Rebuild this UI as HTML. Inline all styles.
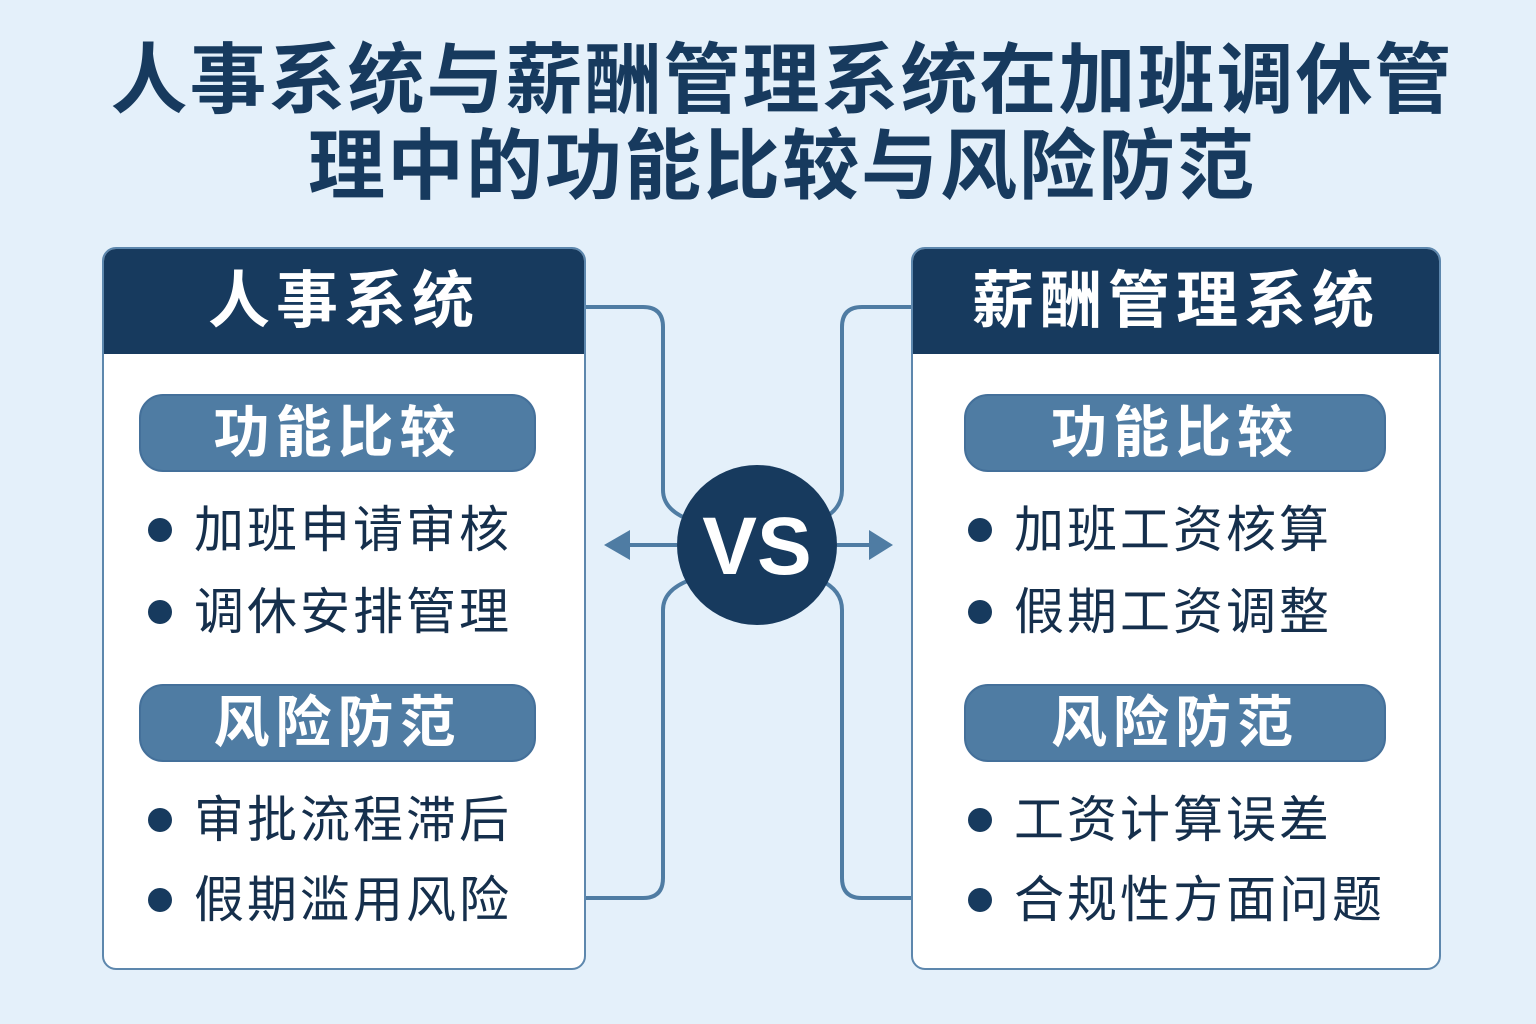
<!DOCTYPE html>
<html><head><meta charset="utf-8"><style>
body{margin:0;width:1536px;height:1024px;background:#e4f0fa;position:relative;overflow:hidden;font-family:"Liberation Sans","Noto Sans CJK SC",sans-serif}
.t{position:absolute;left:14px;width:1536px;text-align:center;color:#173a5e;font-weight:bold;white-space:nowrap}
.panel{position:absolute;top:247px;height:723px;background:#fff;border:2px solid #5d87ad;border-radius:14px;box-sizing:border-box;overflow:hidden}
.hd{position:absolute;left:0;top:0;right:0;height:105px;background:#173a5e;color:#fff;font-weight:bold;font-size:62px;line-height:105px;text-align:center;letter-spacing:6px}
.pill{position:absolute;height:78px;background:#4f7ca3;border:2px solid #44709a;border-radius:24px;box-sizing:border-box;color:#fff;font-weight:bold;font-size:56px;line-height:74px;text-align:center;letter-spacing:6px}
.it{position:absolute;font-size:50px;color:#152f4c;white-space:nowrap;line-height:60px;letter-spacing:3px}
.it:before{content:"";position:absolute;left:-46px;top:18px;width:24px;height:24px;border-radius:50%;background:#173a5e}
</style></head><body>
<div class="t" style="top:36px;font-size:77px;line-height:90px;letter-spacing:2px">人事系统与薪酬管理系统在加班调休管</div>
<div class="t" style="top:122px;font-size:77px;line-height:90px;letter-spacing:2px">理中的功能比较与风险防范</div>

<svg style="position:absolute;left:0;top:0" width="1536" height="1024">
<g fill="none" stroke="#4f7ca3" stroke-width="4">
<path d="M585 307 H643 Q663 307 663 327 V490 Q663 510 690 520"/>
<path d="M585 898 H643 Q663 898 663 878 V610 Q663 590 690 580"/>
<path d="M912 307 H862 Q842 307 842 327 V490 Q842 510 820 520"/>
<path d="M912 898 H862 Q842 898 842 878 V610 Q842 590 820 580"/>
<path d="M677 545 H625"/><path d="M837 545 H872"/>
</g>
<polygon points="604,545 630,530 630,560" fill="#4f7ca3"/>
<polygon points="893,545 869,530 869,560" fill="#4f7ca3"/>
<circle cx="757" cy="545" r="80" fill="#173a5e"/>
<text x="757" y="574" text-anchor="middle" fill="#fff" font-size="82" font-weight="bold" font-family="Liberation Sans,sans-serif">VS</text>
</svg>

<div class="panel" style="left:102px;width:484px">
<div class="hd">人事系统</div>
<div class="pill" style="left:35px;top:145px;width:397px">功能比较</div>
<div class="it" style="left:90px;top:251px">加班申请审核</div>
<div class="it" style="left:90px;top:333px">调休安排管理</div>
<div class="pill" style="left:35px;top:435px;width:397px">风险防范</div>
<div class="it" style="left:90px;top:541px">审批流程滞后</div>
<div class="it" style="left:90px;top:621px">假期滥用风险</div>
</div>

<div class="panel" style="left:911px;width:530px">
<div class="hd">薪酬管理系统</div>
<div class="pill" style="left:51px;top:145px;width:422px">功能比较</div>
<div class="it" style="left:101px;top:251px">加班工资核算</div>
<div class="it" style="left:101px;top:333px">假期工资调整</div>
<div class="pill" style="left:51px;top:435px;width:422px">风险防范</div>
<div class="it" style="left:101px;top:541px">工资计算误差</div>
<div class="it" style="left:101px;top:621px">合规性方面问题</div>
</div>
</body></html>
